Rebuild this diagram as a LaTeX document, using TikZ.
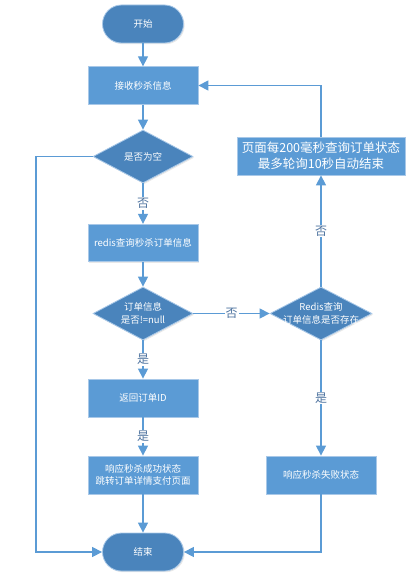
\documentclass[tikz,border=0pt]{standalone}
\usepackage{fontspec}
\newfontfamily\cjk{Noto Sans CJK SC}
\usetikzlibrary{shapes.geometric,arrows.meta,shadows}
\definecolor{boxblue}{HTML}{5B9BD5}
\definecolor{darkblue}{HTML}{4A84BC}
\definecolor{edgeblue}{HTML}{A8C8E8}
\definecolor{lineblue}{HTML}{5B9BD5}
\definecolor{lblcol}{HTML}{4F74A0}
\tikzset{
  base/.style={draw=edgeblue, line width=0.8pt, text=white, font=\cjk\fontsize{9.5}{12.5}\selectfont, align=center, inner sep=0pt,
    drop shadow={opacity=0.18, shadow xshift=1.2pt, shadow yshift=-1.2pt}},
  proc/.style={base, rectangle, fill=boxblue, minimum width=110pt, minimum height=37.5pt},
  term/.style={base, rectangle, rounded corners=19pt, fill=darkblue, minimum width=81pt, minimum height=38pt},
  dec/.style={base, diamond, fill=darkblue, minimum width=100pt, minimum height=53pt},
  dectext/.style={text=white, font=\cjk\fontsize{9.5}{12.5}\selectfont, align=center},
  conn/.style={draw=lineblue, line width=1.3pt, -{Triangle[width=10pt,length=10pt]}},
  lbl/.style={fill=white, text=lblcol, font=\cjk\fontsize{12}{14}\selectfont, inner sep=1pt}
}
\begin{document}
\begin{tikzpicture}[x=1pt,y=-1pt]
\useasboundingbox (0,0) rectangle (411,578);
\node[term] (start) at (143,24) {开始};
\node[proc] (recv) at (143,85.5) {接收秒杀信息};
\node[dec] (q1) at (143,156.5) {};
\node[dectext] at (q1) {是否为空};
\node[proc] (redis) at (143,243) {redis查询秒杀订单信息};
\node[dec] (q2) at (143,313.5) {};
\node[dectext] at (q2) {订单信息\\是否!=null};
\node[dec, minimum width=102pt] (q3) at (321,313.5) {};
\node[dectext] at (q3) {Redis查询\\订单信息是否存在};
\node[proc, minimum width=168pt, minimum height=38pt, font=\cjk\fontsize{12.5}{16}\selectfont] (poll) at (321,156) {页面每200毫秒查询订单状态\\最多轮询10秒自动结束};
\node[proc, minimum height=38pt] (ret) at (143,398) {返回订单ID};
\node[proc, minimum height=38pt] (succ) at (143,475) {响应秒杀成功状态\\跳转订单详情支付页面};
\node[proc, minimum height=38pt] (fail) at (321,475) {响应秒杀失败状态};
\node[term] (end) at (143,552) {结束};
\coordinate (L) at (36,156.5);

\draw[conn] (start) -- (recv);
\draw[conn] (recv) -- (q1);
\draw[conn] (q1.west) -- (L) |- (end.west);
\draw[conn] (q1) -- node[lbl] {否} (redis);
\draw[conn] (redis) -- (q2);
\draw[conn] (q2) -- node[lbl] {否} (q3);
\draw[conn] (q2) -- node[lbl] {是} (ret);
\draw[conn] (ret) -- node[lbl] {是} (succ);
\draw[conn] (succ) -- (end);
\draw[conn] (q3) -- node[lbl] {否} (poll);
\draw[conn] (poll.north) |- (recv.east);
\draw[conn] (q3) -- node[lbl] {是} (fail);
\draw[conn] (fail.south) |- (end.east);
\end{tikzpicture}
\end{document}
